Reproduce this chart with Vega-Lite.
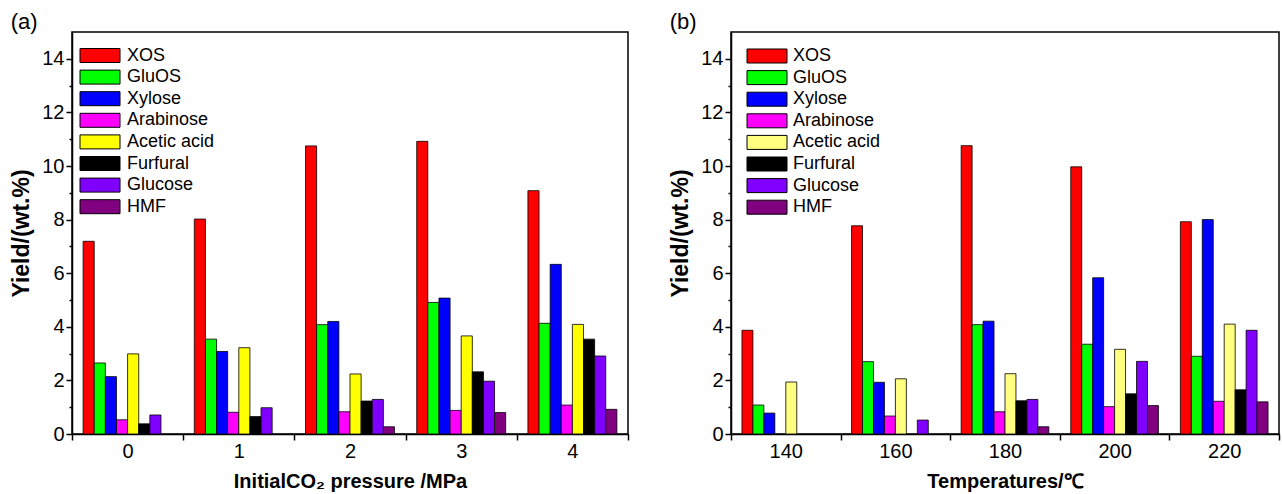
{
  "$schema": "https://vega.github.io/schema/vega-lite/v6.json",
  "padding": {"left": 10, "top": 10, "right": 0, "bottom": 0},
  "config": {
    "font": "Liberation Sans",
    "view": {"stroke": "black", "strokeWidth": 1.5},
    "axis": {"domainColor": "black", "domainWidth": 1.5, "tickColor": "black", "tickWidth": 1.5, "labelColor": "black", "titleColor": "black", "labelFont": "Liberation Sans", "titleFont": "Liberation Sans", "labelFontSize": 20, "grid": false},
    "title": {"fontSize": 22, "fontWeight": "normal", "anchor": "start", "frame": "bounds", "color": "black", "font": "Liberation Sans", "offset": -2}
  },
  "datasets": {
    "a": [
      {"x": "0", "s": "XOS", "v": 7.19}, {"x": "0", "s": "GluOS", "v": 2.65}, {"x": "0", "s": "Xylose", "v": 2.14}, {"x": "0", "s": "Arabinose", "v": 0.53}, {"x": "0", "s": "Acetic acid", "v": 2.99}, {"x": "0", "s": "Furfural", "v": 0.38}, {"x": "0", "s": "Glucose", "v": 0.71},
      {"x": "1", "s": "XOS", "v": 8.02}, {"x": "1", "s": "GluOS", "v": 3.54}, {"x": "1", "s": "Xylose", "v": 3.08}, {"x": "1", "s": "Arabinose", "v": 0.81}, {"x": "1", "s": "Acetic acid", "v": 3.22}, {"x": "1", "s": "Furfural", "v": 0.65}, {"x": "1", "s": "Glucose", "v": 0.98},
      {"x": "2", "s": "XOS", "v": 10.75}, {"x": "2", "s": "GluOS", "v": 4.08}, {"x": "2", "s": "Xylose", "v": 4.2}, {"x": "2", "s": "Arabinose", "v": 0.83}, {"x": "2", "s": "Acetic acid", "v": 2.24}, {"x": "2", "s": "Furfural", "v": 1.23}, {"x": "2", "s": "Glucose", "v": 1.29}, {"x": "2", "s": "HMF", "v": 0.27},
      {"x": "3", "s": "XOS", "v": 10.92}, {"x": "3", "s": "GluOS", "v": 4.91}, {"x": "3", "s": "Xylose", "v": 5.07}, {"x": "3", "s": "Arabinose", "v": 0.88}, {"x": "3", "s": "Acetic acid", "v": 3.66}, {"x": "3", "s": "Furfural", "v": 2.32}, {"x": "3", "s": "Glucose", "v": 1.97}, {"x": "3", "s": "HMF", "v": 0.8},
      {"x": "4", "s": "XOS", "v": 9.08}, {"x": "4", "s": "GluOS", "v": 4.13}, {"x": "4", "s": "Xylose", "v": 6.33}, {"x": "4", "s": "Arabinose", "v": 1.08}, {"x": "4", "s": "Acetic acid", "v": 4.09}, {"x": "4", "s": "Furfural", "v": 3.54}, {"x": "4", "s": "Glucose", "v": 2.91}, {"x": "4", "s": "HMF", "v": 0.92}
    ],
    "b": [
      {"x": "140", "s": "XOS", "v": 3.87}, {"x": "140", "s": "GluOS", "v": 1.08}, {"x": "140", "s": "Xylose", "v": 0.78}, {"x": "140", "s": "Acetic acid", "v": 1.94},
      {"x": "160", "s": "XOS", "v": 7.77}, {"x": "160", "s": "GluOS", "v": 2.7}, {"x": "160", "s": "Xylose", "v": 1.93}, {"x": "160", "s": "Arabinose", "v": 0.67}, {"x": "160", "s": "Acetic acid", "v": 2.06}, {"x": "160", "s": "Glucose", "v": 0.52},
      {"x": "180", "s": "XOS", "v": 10.76}, {"x": "180", "s": "GluOS", "v": 4.08}, {"x": "180", "s": "Xylose", "v": 4.21}, {"x": "180", "s": "Arabinose", "v": 0.83}, {"x": "180", "s": "Acetic acid", "v": 2.25}, {"x": "180", "s": "Furfural", "v": 1.24}, {"x": "180", "s": "Glucose", "v": 1.29}, {"x": "180", "s": "HMF", "v": 0.27},
      {"x": "200", "s": "XOS", "v": 9.97}, {"x": "200", "s": "GluOS", "v": 3.35}, {"x": "200", "s": "Xylose", "v": 5.83}, {"x": "200", "s": "Arabinose", "v": 1.02}, {"x": "200", "s": "Acetic acid", "v": 3.16}, {"x": "200", "s": "Furfural", "v": 1.5}, {"x": "200", "s": "Glucose", "v": 2.71}, {"x": "200", "s": "HMF", "v": 1.06},
      {"x": "220", "s": "XOS", "v": 7.92}, {"x": "220", "s": "GluOS", "v": 2.9}, {"x": "220", "s": "Xylose", "v": 8.0}, {"x": "220", "s": "Arabinose", "v": 1.22}, {"x": "220", "s": "Acetic acid", "v": 4.1}, {"x": "220", "s": "Furfural", "v": 1.65}, {"x": "220", "s": "Glucose", "v": 3.87}, {"x": "220", "s": "HMF", "v": 1.2}
    ]
  },
  "hconcat": [
    {
      "title": {"text": "(a)"},
      "width": 556,
      "height": 402,
      "data": {"name": "a"},
      "mark": {"type": "bar", "stroke": "black", "strokeWidth": 0.8},
      "encoding": {
        "x": {"field": "x", "type": "nominal", "scale": {"paddingInner": 0, "paddingOuter": 0}, "axis": {"title": "InitialCO₂ pressure /MPa", "labelAngle": 0, "tickBand": "extent", "tickSize": 6, "labelPadding": 1, "titleFontSize": 20, "titleFontWeight": "bold", "titlePadding": 10}},
        "xOffset": {"field": "s", "type": "nominal", "scale": {"domain": ["XOS", "GluOS", "Xylose", "Arabinose", "Acetic acid", "Furfural", "Glucose", "HMF"], "paddingInner": 0, "paddingOuter": 1}},
        "y": {"field": "v", "type": "quantitative", "scale": {"domain": [0, 15], "nice": false}, "axis": {"title": "Yield/(wt.%)", "values": [0, 1, 2, 3, 4, 5, 6, 7, 8, 9, 10, 11, 12, 13, 14], "labelExpr": "datum.value % 2 === 0 ? datum.label : ''", "tickSize": {"condition": {"test": "datum.value % 2 === 0", "value": 6}, "value": 3}, "labelPadding": 2, "titleFontSize": 23, "titleFontWeight": "bold", "titlePadding": 8}},
        "color": {"field": "s", "type": "nominal", "scale": {"domain": ["XOS", "GluOS", "Xylose", "Arabinose", "Acetic acid", "Furfural", "Glucose", "HMF"], "range": ["#FF0000", "#00FF00", "#0000FF", "#FF00FF", "#FFFF00", "#000000", "#8000FF", "#800080"]}, "legend": {"title": null, "orient": "none", "legendX": 17.5, "legendY": 13, "padding": 0, "symbolType": "M-2,-0.7H2V0.7H-2Z", "symbolSize": 400, "symbolStrokeColor": "black", "symbolStrokeWidth": 1, "symbolOpacity": 1, "labelFontSize": 18, "labelColor": "black", "labelFont": "Liberation Sans", "labelOffset": 16.5, "rowPadding": 1.6}}
      }
    },
    {
      "title": {"text": "(b)"},
      "width": 548,
      "height": 402,
      "data": {"name": "b"},
      "mark": {"type": "bar", "stroke": "black", "strokeWidth": 0.8},
      "encoding": {
        "x": {"field": "x", "type": "nominal", "scale": {"paddingInner": 0, "paddingOuter": 0}, "axis": {"title": "Temperatures/℃", "labelAngle": 0, "tickBand": "extent", "tickSize": 6, "labelPadding": 1, "titleFontSize": 20, "titleFontWeight": "bold", "titlePadding": 10}},
        "xOffset": {"field": "s", "type": "nominal", "scale": {"domain": ["XOS", "GluOS", "Xylose", "Arabinose", "Acetic acid", "Furfural", "Glucose", "HMF"], "paddingInner": 0, "paddingOuter": 1}},
        "y": {"field": "v", "type": "quantitative", "scale": {"domain": [0, 15], "nice": false}, "axis": {"title": "Yield/(wt.%)", "values": [0, 1, 2, 3, 4, 5, 6, 7, 8, 9, 10, 11, 12, 13, 14], "labelExpr": "datum.value % 2 === 0 ? datum.label : ''", "tickSize": {"condition": {"test": "datum.value % 2 === 0", "value": 6}, "value": 3}, "labelPadding": 2, "titleFontSize": 23, "titleFontWeight": "bold", "titlePadding": 8}},
        "color": {"field": "s", "type": "nominal", "scale": {"domain": ["XOS", "GluOS", "Xylose", "Arabinose", "Acetic acid", "Furfural", "Glucose", "HMF"], "range": ["#FF0000", "#00FF00", "#0000FF", "#FF00FF", "#FFFF80", "#000000", "#8000FF", "#800080"]}, "legend": {"title": null, "orient": "none", "legendX": 25.5, "legendY": 13.5, "padding": 0, "symbolType": "M-2,-0.7H2V0.7H-2Z", "symbolSize": 400, "symbolStrokeColor": "black", "symbolStrokeWidth": 1, "symbolOpacity": 1, "labelFontSize": 18, "labelColor": "black", "labelFont": "Liberation Sans", "labelOffset": 15.5, "rowPadding": 1.6}}
      }
    }
  ],
  "spacing": 39,
  "resolve": {"scale": {"color": "independent", "x": "independent", "xOffset": "independent"}, "legend": {"color": "independent"}}
}
